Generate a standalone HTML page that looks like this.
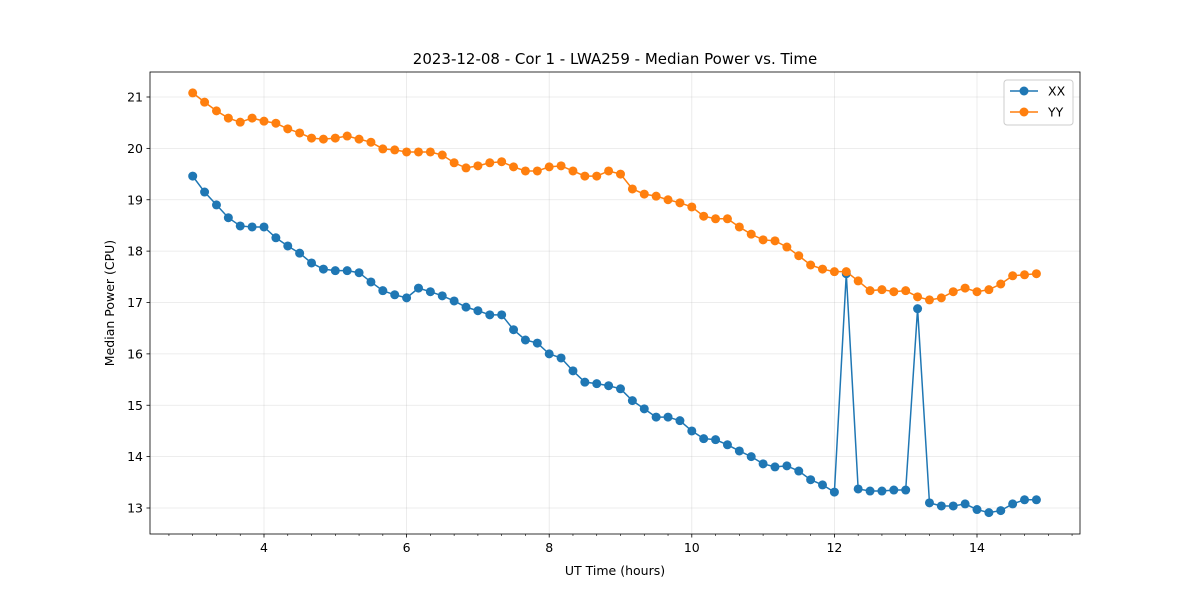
<!DOCTYPE html>
<html><head><meta charset="utf-8"><style>
body{margin:0;background:#fff;font-family:"Liberation Sans","DejaVu Sans",sans-serif;}
svg text{font-family:"DejaVu Sans","Liberation Sans",sans-serif;}
</style></head><body>
<svg id="chart" width="1200" height="600"></svg>
<script>
const xVals=[];for(let i=0;i<72;i++)xVals.push(3+i/6);
const xxVals=[19.46,19.15,18.9,18.65,18.49,18.47,18.47,18.26,18.1,17.96,17.77,17.65,17.62,17.62,17.58,17.4,17.23,17.15,17.09,17.28,17.21,17.13,17.03,16.91,16.84,16.76,16.76,16.47,16.27,16.21,16.0,15.92,15.67,15.45,15.42,15.38,15.32,15.09,14.93,14.77,14.77,14.70,14.5,14.35,14.33,14.23,14.11,14.0,13.86,13.8,13.82,13.72,13.55,13.45,13.31,17.56,13.37,13.33,13.33,13.35,13.35,16.88,13.1,13.04,13.04,13.08,12.97,12.91,12.95,13.08,13.16,13.16];
const yyVals=[21.08,20.9,20.73,20.59,20.51,20.59,20.53,20.49,20.38,20.3,20.2,20.18,20.2,20.24,20.18,20.12,19.99,19.97,19.93,19.93,19.93,19.87,19.72,19.62,19.66,19.72,19.74,19.64,19.56,19.56,19.64,19.66,19.56,19.46,19.46,19.56,19.5,19.21,19.11,19.07,19.0,18.94,18.86,18.68,18.63,18.63,18.47,18.33,18.22,18.2,18.08,17.91,17.73,17.65,17.6,17.6,17.42,17.23,17.25,17.21,17.23,17.11,17.05,17.09,17.21,17.28,17.21,17.25,17.36,17.52,17.54,17.56];
const xTicks=[4,6,8,10,12,14];
const yTicks=[13,14,15,16,17,18,19,20,21];
const L=150,R=1080,T=72,B=534;
const X=v=>264+(v-4)*71.3;
const Y=v=>97+(21-v)*51.375;
const svg=document.getElementById('chart');
const NS='http://www.w3.org/2000/svg';
function el(t,a,p){const e=document.createElementNS(NS,t);for(const k in a)e.setAttribute(k,a[k]);(p||svg).appendChild(e);return e;}
xTicks.forEach(t=>{const g=el('line',{x1:X(t),x2:X(t),y1:T,y2:B,stroke:'#b0b0b0','stroke-opacity':0.3,'stroke-width':0.8});

});
yTicks.forEach(t=>{const g=el('line',{x1:L,x2:R,y1:Y(t),y2:Y(t),stroke:'#b0b0b0','stroke-opacity':0.3,'stroke-width':0.8});

});
function series(vals,color,name){
 const g=el('g',{});
 
 
 el('polyline',{points:vals.map((v,i)=>X(xVals[i])+','+Y(v)).join(' '),fill:'none',stroke:color,'stroke-width':1.5},g);
 vals.forEach((v,i)=>{const c=el('circle',{cx:X(xVals[i]),cy:Y(v),r:4.5,fill:color},g);
 
 });
}
series(xxVals,'#1f77b4','xx-series');
series(yyVals,'#ff7f0e','yy-series');
const fr=el('rect',{x:L,y:T,width:R-L,height:B-T,fill:'none',stroke:'#000','stroke-width':0.8});


xTicks.forEach(t=>{el('line',{x1:X(t),x2:X(t),y1:B,y2:B+3.5,stroke:'#000','stroke-width':0.8});
const tx=el('text',{x:X(t),y:B+18,'text-anchor':'middle','font-size':12.5});tx.textContent=t;

});
for(let k=6;k<=46;k++){const m=k/3;if(k%6===0)continue;if(X(m)>L&&X(m)<R)el('line',{x1:X(m),x2:X(m),y1:B,y2:B+2,stroke:'#000','stroke-width':0.6});}
yTicks.forEach(t=>{el('line',{x1:L-3.5,x2:L,y1:Y(t),y2:Y(t),stroke:'#000','stroke-width':0.8});
const tx=el('text',{x:L-7,y:Y(t)+4.5,'text-anchor':'end','font-size':12.5});tx.textContent=t;

});
let t=el('text',{x:615,y:64,'text-anchor':'middle','font-size':15});t.textContent='2023-12-08 - Cor 1 - LWA259 - Median Power vs. Time';


t=el('text',{x:615,y:575,'text-anchor':'middle','font-size':12.5});t.textContent='UT Time (hours)';


t=el('text',{x:114,y:303,'text-anchor':'middle','font-size':12.5,transform:'rotate(-90 114 303)'});t.textContent='Median Power (CPU)';


const lg=el('g',{});


el('rect',{x:1004,y:80,width:69,height:45,rx:3,fill:'#fff','fill-opacity':0.8,stroke:'#ccc'},lg);
[['XX','#1f77b4',91],['YY','#ff7f0e',112]].forEach(([n,c,y])=>{
 const e=el('g',{},lg);
 
 
 el('line',{x1:1010,x2:1038,y1:y,y2:y,stroke:c,'stroke-width':1.5},e);
 el('circle',{cx:1024,cy:y,r:4.5,fill:c},e);
 const tt=el('text',{x:1048,y:y+4.5,'font-size':12.5},e);tt.textContent=n;
});
</script>
</body></html>
